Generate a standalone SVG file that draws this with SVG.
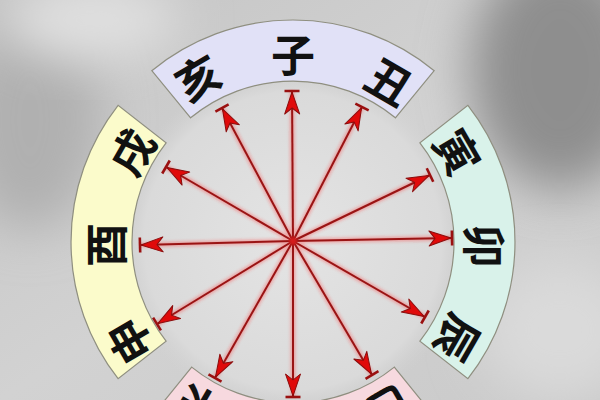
<svg xmlns="http://www.w3.org/2000/svg" width="600" height="400" viewBox="0 0 600 400">
<defs>
<linearGradient id="bg" x1="0" y1="0" x2="1" y2="1">
<stop offset="0" stop-color="#c4c4c4"/>
<stop offset="0.5" stop-color="#d2d2d2"/>
<stop offset="1" stop-color="#cacaca"/>
</linearGradient>
<radialGradient id="inner" cx="0.5" cy="0.5" r="0.5">
<stop offset="0" stop-color="#e4e4e4"/>
<stop offset="0.85" stop-color="#dadada"/>
<stop offset="1" stop-color="#d2d2d2" stop-opacity="0"/>
</radialGradient>
<filter id="blur" x="-50%" y="-50%" width="200%" height="200%"><feGaussianBlur stdDeviation="25"/></filter>
<filter id="glow" x="-10%" y="-10%" width="120%" height="120%"><feGaussianBlur stdDeviation="1.5"/></filter>
<marker id="ah" markerUnits="userSpaceOnUse" viewBox="-26 -10 30 20" refX="0" refY="0" markerWidth="30" markerHeight="20" orient="auto" overflow="visible">
<polygon points="-1,0 -23,-7.5 -17,0 -23,7.5" fill="#e00a0a" stroke="#8a0d0d" stroke-width="1" stroke-linejoin="round"/>
<line x1="0" y1="-7.5" x2="0" y2="7.5" stroke="#9a1010" stroke-width="2.6"/>
</marker>
</defs>
<style>
.arc{stroke:#8f8f80;stroke-width:1.2}
.ch{font-family:"Noto Sans CJK SC","Noto Sans CJK JP",sans-serif;font-size:44px;font-weight:700;fill:#111;text-anchor:middle;dominant-baseline:central}
.ray{stroke:#9a1414;stroke-width:2;fill:none;marker-end:url(#ah)}
.halo{stroke:#ff3030;stroke-width:5;opacity:0.35;fill:none}
</style>
<rect width="600" height="400" fill="url(#bg)"/>
<ellipse cx="560" cy="70" rx="90" ry="120" fill="#8e8e8e" filter="url(#blur)"/>
<ellipse cx="30" cy="120" rx="70" ry="110" fill="#b0b0b0" filter="url(#blur)"/>
<ellipse cx="560" cy="330" rx="80" ry="70" fill="#dadada" filter="url(#blur)"/>
<ellipse cx="90" cy="20" rx="90" ry="40" fill="#e0e0e0" filter="url(#blur)"/>
<circle cx="293" cy="241" r="175" fill="url(#inner)"/>

<g id="arc-top">
<path class="arc" fill="#e1e1f7" d="M151.8,70.7 A222,222 0 0 1 434.2,70.7 L395.4,117.8 A161,161 0 0 0 190.6,117.8 Z"/>
<text class="ch" transform="translate(197,76) rotate(-30)">亥</text>
<text class="ch" transform="translate(293,53)">子</text>
<text class="ch" transform="translate(390,80) rotate(30)">丑</text>
</g>
<g id="arc-right">
<path class="arc" fill="#d9f2ea" d="M467.9,105.3 A222,222 0 0 1 467.9,378.7 L419.9,341.1 A161,161 0 0 0 419.9,142.9 Z"/>
<text class="ch" transform="translate(459,151) rotate(60)">寅</text>
<text class="ch" transform="translate(486,246) rotate(90)">卯</text>
<text class="ch" transform="translate(459,339) rotate(120)">辰</text>
</g>
<g id="arc-left">
<path class="arc" fill="#fbfbcb" d="M118.1,378.7 A222,222 0 0 1 118.1,105.3 L166.1,142.9 A161,161 0 0 0 166.1,341.1 Z"/>
<text class="ch" transform="translate(130,151) rotate(-60)">戌</text>
<text class="ch" transform="translate(104,245) rotate(-90)">酉</text>
<text class="ch" transform="translate(128,342) rotate(-120)">申</text>
</g>
<g id="arc-bottom">
<path class="arc" fill="#f7d9df" d="M432.7,414.5 A222,222 0 0 1 153.3,414.5 L191.7,367.1 A161,161 0 0 0 394.3,367.1 Z"/>
<text class="ch" transform="translate(198,410) rotate(210)">未</text>
<text class="ch" transform="translate(390,410) rotate(150)">巳</text>
</g>

<g id="connectors">
<g filter="url(#glow)">
<path class="halo" d="M293,241 L292,91 M293,241 L362,107 M293,241 L430,175 M293,241 L452,238 M293,241 L425,317 M293,241 L372,375 M293,241 L293,397 M293,241 L215,378 M293,241 L157,324 M293,241 L140,245 M293,241 L166,167 M293,241 L222,108"/>
</g>
<line class="ray" x1="293" y1="241" x2="292" y2="91"/>
<line class="ray" x1="293" y1="241" x2="362" y2="107"/>
<line class="ray" x1="293" y1="241" x2="430" y2="175"/>
<line class="ray" x1="293" y1="241" x2="452" y2="238"/>
<line class="ray" x1="293" y1="241" x2="425" y2="317"/>
<line class="ray" x1="293" y1="241" x2="372" y2="375"/>
<line class="ray" x1="293" y1="241" x2="293" y2="397"/>
<line class="ray" x1="293" y1="241" x2="215" y2="378"/>
<line class="ray" x1="293" y1="241" x2="157" y2="324"/>
<line class="ray" x1="293" y1="241" x2="140" y2="245"/>
<line class="ray" x1="293" y1="241" x2="166" y2="167"/>
<line class="ray" x1="293" y1="241" x2="222" y2="108"/>
<circle cx="293" cy="241" r="4" fill="#ff2020" opacity="0.6" filter="url(#glow)"/>
</g>
</svg>
